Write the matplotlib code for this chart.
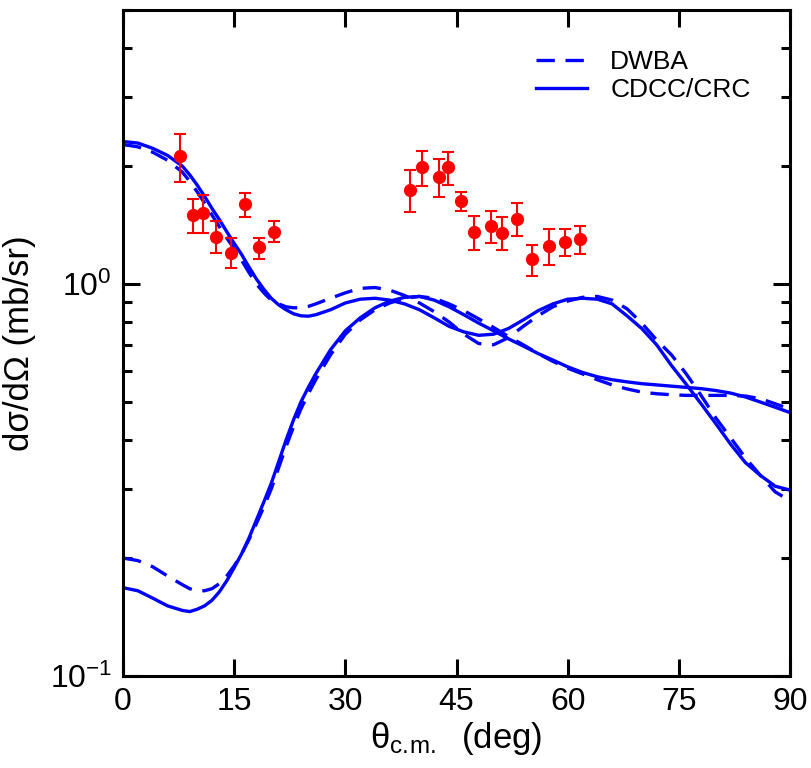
import numpy as np
import matplotlib
matplotlib.use('Agg')
import matplotlib.pyplot as plt
from matplotlib.ticker import FixedLocator, LogLocator, NullFormatter

plt.rcParams['font.family'] = ['Liberation Sans', 'DejaVu Sans']
plt.rcParams['mathtext.fontset'] = 'custom'
plt.rcParams['mathtext.rm'] = 'Liberation Sans'

# angle grid of the calculations (deg)
theta = [0, 2, 4, 6, 8, 9, 10, 11, 12, 13, 14, 15, 16, 17, 18, 19, 20, 21, 22, 23, 24, 25, 26,
         28, 30, 32, 34, 36, 38, 40, 42, 44, 46, 48, 50, 52, 54, 56, 58, 60, 62, 64, 66, 68, 70,
         72, 74, 76, 78, 80, 82, 84, 86, 88, 90]

# CDCC/CRC (solid) and DWBA (dashed), two states each
cdcc_a = [2.31, 2.29, 2.22, 2.13, 2.00, 1.90, 1.79, 1.675, 1.56, 1.46, 1.36, 1.27, 1.19, 1.105,
          1.03, 0.97, 0.92, 0.885, 0.86, 0.84, 0.83, 0.828, 0.835,
          0.86, 0.895, 0.915, 0.92, 0.91, 0.89, 0.86, 0.82, 0.78, 0.755, 0.74, 0.745, 0.77, 0.81,
          0.855, 0.89, 0.915, 0.92, 0.915, 0.89, 0.83, 0.77, 0.70, 0.62, 0.555, 0.495, 0.44, 0.39,
          0.35, 0.325, 0.305, 0.298]
dwba_a = [2.27, 2.24, 2.17, 2.07, 1.93, 1.83, 1.72, 1.61, 1.50, 1.40, 1.31, 1.23, 1.15, 1.07,
          1.00, 0.95, 0.91, 0.89, 0.875, 0.87, 0.87, 0.877, 0.89,
          0.92, 0.95, 0.975, 0.98, 0.965, 0.935, 0.895, 0.85, 0.80, 0.745, 0.705, 0.70, 0.73, 0.78,
          0.83, 0.875, 0.905, 0.925, 0.93, 0.91, 0.865, 0.795, 0.72, 0.66, 0.59, 0.52, 0.455, 0.405,
          0.36, 0.325, 0.295, 0.28]
cdcc_b = [0.168, 0.165, 0.158, 0.151, 0.147, 0.146, 0.148, 0.151, 0.156, 0.164, 0.175, 0.189,
          0.205, 0.225, 0.25, 0.278, 0.31, 0.352, 0.40, 0.45, 0.50, 0.545, 0.59,
          0.68, 0.76, 0.82, 0.87, 0.905, 0.925, 0.93, 0.91, 0.875, 0.835, 0.795, 0.76, 0.725,
          0.695, 0.665, 0.64, 0.615, 0.595, 0.58, 0.57, 0.563, 0.557, 0.553, 0.549, 0.545, 0.541,
          0.535, 0.527, 0.515, 0.50, 0.485, 0.47]
dwba_b = [0.20, 0.197, 0.19, 0.18, 0.171, 0.167, 0.165, 0.165, 0.167, 0.172, 0.18, 0.191,
          0.205, 0.223, 0.245, 0.27, 0.30, 0.34, 0.385, 0.432, 0.48, 0.525, 0.57,
          0.66, 0.745, 0.81, 0.86, 0.895, 0.92, 0.93, 0.92, 0.89, 0.855, 0.815, 0.775, 0.735,
          0.70, 0.665, 0.635, 0.61, 0.59, 0.57, 0.553, 0.54, 0.53, 0.525, 0.522, 0.52, 0.52, 0.52,
          0.52, 0.518, 0.51, 0.495, 0.48]

# experimental data
exp_theta = [7.7, 9.5, 10.8, 12.5, 14.6, 16.4, 18.3, 20.4, 38.7, 40.4, 42.6, 43.9, 45.6, 47.4,
             49.6, 51.1, 53.2, 55.2, 57.5, 59.6, 61.6]
exp_y = [2.12, 1.50, 1.52, 1.32, 1.20, 1.60, 1.24, 1.36, 1.74, 1.99, 1.88, 1.99, 1.63, 1.36,
         1.41, 1.35, 1.47, 1.16, 1.25, 1.28, 1.30]
exp_hi = [2.41, 1.65, 1.69, 1.45, 1.31, 1.71, 1.31, 1.45, 1.95, 2.18, 2.08, 2.17, 1.72, 1.49,
          1.54, 1.48, 1.61, 1.26, 1.38, 1.38, 1.41]
exp_lo = [1.82, 1.35, 1.35, 1.20, 1.10, 1.48, 1.16, 1.28, 1.53, 1.78, 1.67, 1.79, 1.54, 1.22,
          1.27, 1.22, 1.33, 1.05, 1.12, 1.18, 1.19]

fig = plt.figure(figsize=(8.11, 7.68), dpi=100)
ax = fig.add_axes([0.1517, 0.1198, 0.8224, 0.867])

dash = (5.5, 3.2)
lw = 2.4
ax.plot(theta, dwba_a, color='#0000ff', lw=lw, dashes=dash, label='DWBA')
ax.plot(theta, cdcc_a, color='#0000ff', lw=lw, label='CDCC/CRC')
ax.plot(theta, dwba_b, color='#0000ff', lw=lw, dashes=dash)
ax.plot(theta, cdcc_b, color='#0000ff', lw=lw)

yerr = [np.array(exp_y) - np.array(exp_lo), np.array(exp_hi) - np.array(exp_y)]
ax.errorbar(exp_theta, exp_y, yerr=yerr, fmt='o', color='#ff0000', ms=8.5,
            elinewidth=1.5, capsize=4.5, capthick=1.5, zorder=5)

ax.set_yscale('log')
ax.set_xlim(0, 90)
ax.set_ylim(0.1, 5)
ax.xaxis.set_major_locator(FixedLocator([0, 15, 30, 45, 60, 75, 90]))
ax.set_yticks([0.1, 1])
ax.set_yticklabels([r'$\mathregular{10^{-1}}$', r'$\mathregular{10^{0}}$'])
ax.yaxis.set_minor_locator(LogLocator(base=10, subs=np.arange(2, 10)))
ax.yaxis.set_minor_formatter(NullFormatter())

for s in ax.spines.values():
    s.set_linewidth(2.2)
ax.tick_params(which='major', direction='in', length=12, width=2.2, top=True, right=True,
               labelsize=23, pad=8)
ax.tick_params(which='minor', direction='in', length=6.5, width=2.2, top=True, right=True)

ax.set_xlabel(r'$\mathregular{θ_{c.\!m.}}$  (deg)', fontsize=25, labelpad=2)
ax.set_ylabel('dσ/dΩ (mb/sr)', fontsize=25, labelpad=10)

ax.legend(loc='upper left', bbox_to_anchor=(0.6, 0.96), frameon=False, fontsize=19,
          handlelength=1.9, handletextpad=0.9, labelspacing=0.15, borderpad=0)

fig.savefig('out.png', dpi=100)
